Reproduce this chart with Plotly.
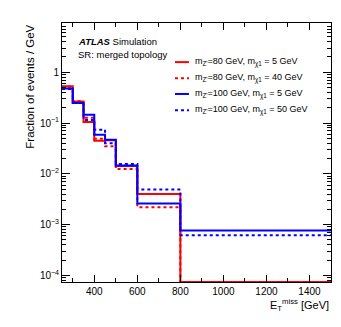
import numpy as np
import plotly.graph_objects as go

# bin edges in GeV and fraction of events / GeV per bin
edges = [250, 300, 350, 400, 450, 500, 600, 800, 1500]
mz80_mx5 = [0.53, 0.267, 0.105, 0.045, 0.046, 0.0142, 0.0040, 0.0]
mz80_mx40 = [0.52, 0.27, 0.127, 0.049, 0.035, 0.0124, 0.0022, 0.0]
mz100_mx5 = [0.48, 0.248, 0.146, 0.059, 0.047, 0.0146, 0.0026, 0.00077]
mz100_mx50 = [0.47, 0.25, 0.115, 0.074, 0.040, 0.0156, 0.0049, 0.00062]

labels = [
    "m<sub>Z'</sub>=80 GeV, m<sub>χ1</sub> = 5 GeV",
    "m<sub>Z'</sub>=80 GeV, m<sub>χ1</sub> = 40 GeV",
    "m<sub>Z'</sub>=100 GeV, m<sub>χ1</sub> = 5 GeV",
    "m<sub>Z'</sub>=100 GeV, m<sub>χ1</sub> = 50 GeV",
]
series = [mz80_mx5, mz80_mx40, mz100_mx5, mz100_mx50]
colors = ['#ff0000', '#ff0000', '#0000ff', '#0000ff']
dashes = ['solid', 'dot', 'solid', 'dot']

ylog_range = [-4.13, 0.97]
yfloor = 10 ** ylog_range[0]  # empty bins are drawn on the frame bottom, like ROOT

FONT = "Liberation Sans, Arial, Helvetica, sans-serif"

fig = go.Figure()
for vals, col, dsh in zip(series, colors, dashes):
    y = [max(v, yfloor) for v in vals]
    fig.add_trace(go.Scatter(x=edges, y=y + [y[-1]],
                             mode='lines',
                             line=dict(color=col, width=2, dash=dsh, shape='hv'),
                             showlegend=False, hoverinfo='skip'))

# hand-made legend, ROOT style
leg_y = [0.849, 0.787, 0.726, 0.663]
shapes = []
annots = []
for lab, col, dsh, ly in zip(labels, colors, dashes, leg_y):
    shapes.append(dict(type='line', xref='paper', yref='paper',
                       x0=0.42, x1=0.472, y0=ly, y1=ly,
                       line=dict(color=col, width=2, dash=dsh)))
    annots.append(dict(text=lab, xref='paper', yref='paper', x=0.487, y=ly,
                       xanchor='left', yanchor='middle', showarrow=False,
                       font=dict(size=9, family=FONT, color='black')))

annots += [
    dict(text="<b><i>ATLAS</i></b> Simulation", xref='paper', yref='paper',
         x=0.052, y=0.929, xanchor='left', yanchor='middle', showarrow=False,
         font=dict(size=9.5, family=FONT, color='black')),
    dict(text="SR: merged topology", xref='paper', yref='paper',
         x=0.052, y=0.880, xanchor='left', yanchor='middle', showarrow=False,
         font=dict(size=9.5, family=FONT, color='black')),
    dict(text="Fraction of events / GeV", xref='paper', yref='paper',
         x=-0.12, y=1.0, xanchor='center', yanchor='top', textangle=-90,
         showarrow=False, font=dict(size=11.5, family=FONT, color='black')),
    dict(text="E<sub>T</sub><sup>miss</sup> [GeV]", xref='paper', yref='paper',
         x=1.0, y=-0.088, xanchor='right', yanchor='middle', showarrow=False,
         font=dict(size=11, family=FONT, color='black')),
]

ytick_vals = [1e-4, 1e-3, 1e-2, 1e-1, 1]
ytick_text = ['10<sup>−4</sup>', '10<sup>−3</sup>', '10<sup>−2</sup>', '10<sup>−1</sup>', '1']
yminor = [m * 10.0 ** d for d in range(-5, 1) for m in range(2, 10)]

fig.update_layout(
    width=341, height=327,
    margin=dict(l=54, r=18, t=15, b=53),
    paper_bgcolor='white', plot_bgcolor='white',
    font=dict(family=FONT, size=10, color='black'),
    shapes=shapes, annotations=annots,
    showlegend=False,
)
fig.update_xaxes(range=[250, 1500], tickvals=[400, 600, 800, 1000, 1200, 1400],
                 ticks='inside', ticklen=7, tickwidth=1, tickcolor='black',
                 minor=dict(dtick=100, tick0=0, ticks='inside', ticklen=4, tickcolor='black', showgrid=False),
                 showline=True, linecolor='black', linewidth=1, mirror='allticks',
                 showgrid=False, zeroline=False, tickfont=dict(size=10))
fig.update_yaxes(type='log', range=ylog_range, tickvals=ytick_vals, ticktext=ytick_text,
                 ticks='inside', ticklen=8, tickwidth=1, tickcolor='black',
                 minor=dict(tickvals=yminor, ticks='inside', ticklen=4, tickcolor='black', showgrid=False),
                 showline=True, linecolor='black', linewidth=1, mirror='allticks',
                 showgrid=False, zeroline=False, tickfont=dict(size=10))

fig.write_html("out.html")
